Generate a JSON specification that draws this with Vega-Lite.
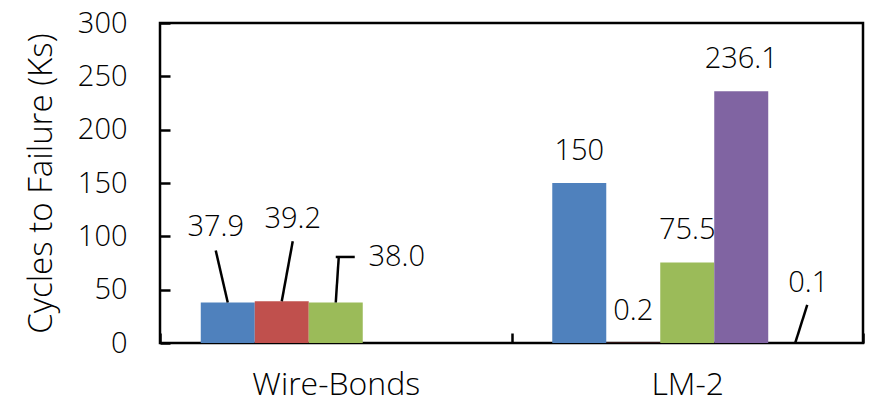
{
  "$schema": "https://vega.github.io/schema/vega-lite/v6.json",
  "width": 703,
  "height": 320,
  "autosize": {"type": "none"},
  "padding": {"left": 160, "top": 23, "right": 13, "bottom": 59},
  "background": "white",
  "config": {
    "font": "Open Sans",
    "view": {"stroke": "black", "strokeWidth": 2.5},
    "text": {"font": "Open Sans", "fontSize": 29, "fontWeight": 300, "color": "black"}
  },
  "data": {
    "values": [
      {"group": "Wire-Bonds", "series": "S1", "value": 37.9, "label": "37.9"},
      {"group": "Wire-Bonds", "series": "S2", "value": 39.2, "label": "39.2"},
      {"group": "Wire-Bonds", "series": "S3", "value": 38.0, "label": "38.0"},
      {"group": "LM-2", "series": "S1", "value": 150, "label": "150"},
      {"group": "LM-2", "series": "S2", "value": 0.2, "label": "0.2"},
      {"group": "LM-2", "series": "S3", "value": 75.5, "label": "75.5"},
      {"group": "LM-2", "series": "S4", "value": 236.1, "label": "236.1"},
      {"group": "LM-2", "series": "S5", "value": 0.1, "label": "0.1"}
    ]
  },
  "encoding": {
    "x": {
      "field": "group", "type": "nominal", "sort": ["Wire-Bonds", "LM-2"],
      "scale": {"paddingInner": 0, "paddingOuter": 0},
      "axis": {
        "title": null, "domain": false, "grid": false, "labelAngle": 0,
        "tickBand": "extent", "tickSize": -10, "tickWidth": 2.5, "tickColor": "black",
        "labelFont": "Open Sans", "labelFontSize": 32, "labelFontWeight": 300, "labelColor": "black", "labelPadding": 36
      }
    },
    "xOffset": {
      "field": "series", "type": "nominal",
      "scale": {"domain": ["S1", "S2", "S3", "S4", "S5"], "paddingInner": 0, "paddingOuter": 0.755}
    },
    "y": {
      "field": "value", "type": "quantitative",
      "scale": {"domain": [0, 300], "nice": false},
      "axis": {
        "values": [0, 50, 100, 150, 200, 250, 300],
        "title": "Cycles to Failure (Ks)", "titleFont": "Open Sans", "titleFontSize": 33, "titleFontWeight": 300, "titleColor": "black", "titlePadding": 19,
        "domain": false, "grid": false,
        "tickSize": -10, "tickWidth": 2.5, "tickColor": "black",
        "labelFont": "Open Sans", "labelFontSize": 29, "labelFontWeight": 300, "labelColor": "black", "labelPadding": 43
      }
    }
  },
  "layer": [
    {
      "mark": {"type": "bar"},
      "encoding": {
        "color": {
          "field": "series", "type": "nominal", "legend": null,
          "scale": {"domain": ["S1", "S2", "S3", "S4", "S5"], "range": ["#4F81BD", "#C0504D", "#9BBB59", "#8064A2", "#4BACC6"]}
        }
      }
    },
    {
      "transform": [{"filter": "datum.group == 'LM-2' && datum.series != 'S5'"}],
      "mark": {"type": "text", "baseline": "middle", "dy": -32},
      "encoding": {"text": {"field": "label"}}
    },
    {
      "transform": [{"filter": "datum.group == 'Wire-Bonds' && datum.series == 'S1'"}],
      "mark": {"type": "text", "baseline": "middle", "dx": -12, "dy": -76},
      "encoding": {"text": {"field": "label"}}
    },
    {
      "transform": [{"filter": "datum.group == 'Wire-Bonds' && datum.series == 'S2'"}],
      "mark": {"type": "text", "baseline": "middle", "dx": 11, "dy": -82},
      "encoding": {"text": {"field": "label"}}
    },
    {
      "transform": [{"filter": "datum.group == 'Wire-Bonds' && datum.series == 'S3'"}],
      "mark": {"type": "text", "baseline": "middle", "dx": 61, "dy": -45},
      "encoding": {"text": {"field": "label"}}
    },
    {
      "transform": [{"filter": "datum.group == 'LM-2' && datum.series == 'S5'"}],
      "mark": {"type": "text", "baseline": "middle", "dx": 13, "dy": -60},
      "encoding": {"text": {"field": "label"}}
    },
    {
      "transform": [{"filter": "datum.group == 'Wire-Bonds' && datum.series == 'S1'"}],
      "mark": {"type": "rule", "color": "black", "strokeWidth": 2.5, "x2Offset": -120, "y2Offset": -52},
      "encoding": {"x2": {"field": "group"}, "y2": {"field": "value"}}
    },
    {
      "transform": [{"filter": "datum.group == 'Wire-Bonds' && datum.series == 'S2'"}],
      "mark": {"type": "rule", "color": "black", "strokeWidth": 2.5, "x2Offset": -43, "y2Offset": -60},
      "encoding": {"x2": {"field": "group"}, "y2": {"field": "value"}}
    },
    {
      "transform": [{"filter": "datum.group == 'Wire-Bonds' && datum.series == 'S3'"}],
      "mark": {"type": "rule", "color": "black", "strokeWidth": 2.5, "x2Offset": 3, "y2Offset": -45.5},
      "encoding": {"x2": {"field": "group"}, "y2": {"field": "value"}}
    },
    {
      "transform": [{"filter": "datum.group == 'Wire-Bonds' && datum.series == 'S3'"}],
      "mark": {"type": "rule", "color": "black", "strokeWidth": 2.5, "xOffset": 3, "x2Offset": 19, "yOffset": -45.5, "y2Offset": -45.5},
      "encoding": {"x2": {"field": "group"}, "y2": {"field": "value"}}
    },
    {
      "transform": [{"filter": "datum.group == 'LM-2' && datum.series == 'S5'"}],
      "mark": {"type": "rule", "color": "black", "strokeWidth": 2.5, "x2Offset": 120, "y2Offset": -38},
      "encoding": {"x2": {"field": "group"}, "y2": {"field": "value"}}
    }
  ]
}
